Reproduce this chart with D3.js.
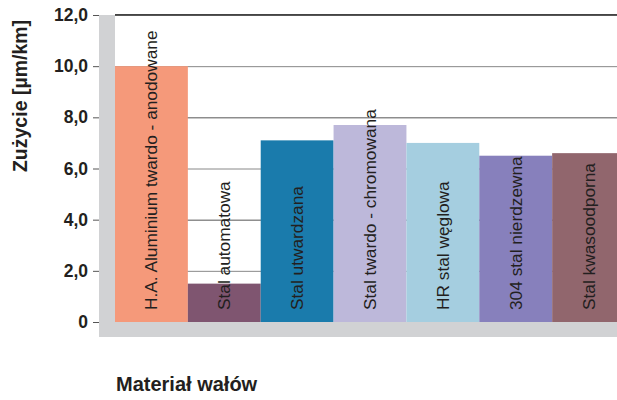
<!DOCTYPE html>
<html>
<head>
<meta charset="utf-8">
<script src="https://cdn.jsdelivr.net/npm/d3@7"></script>
<style>
  body { margin: 0; background: #fff; }
  text { font-family: "Liberation Sans", Arial, sans-serif; fill: #231f20; }
</style>
</head>
<body>
<svg></svg>
<script>
const categories = ["H.A. Aluminium twardo - anodowane", "Stal automatowa", "Stal utwardzana",
  "Stal twardo - chromowana", "HR stal węglowa", "304 stal nierdzewna", "Stal kwasoodporna"];
const values = [10.0, 1.5, 7.1, 7.7, 7.0, 6.5, 6.6];
const colors = ["#f5997a", "#7f5570", "#1a7bac", "#bdb8da", "#a5cee0", "#8780bc", "#91666d"];
const yTicks = [0, 2, 4, 6, 8, 10, 12];
const yTitle = "Zużycie [µm/km]";
const xTitle = "Materiał wałów";

let svg = d3.select("svg").attr("width", 617).attr("height", 400);

const x0 = 115, x1 = 625, yTop = 15, yBot = 322;
const x = d3.scaleBand().domain(categories).range([x0, x1]).padding(0);
const y = d3.scaleLinear().domain([0, 12]).range([yBot, yTop]);

// grey wall + floor
svg.append("rect").attr("x", 99).attr("y", yTop).attr("width", x0 - 99).attr("height", 337 - yTop).style("fill", "#d1d2d4");
svg.append("rect").attr("x", 99).attr("y", yBot).attr("width", 617 - 99).attr("height", 337 - yBot).style("fill", "#d1d2d4");

// gridlines
svg.append("g").selectAll("line").data(yTicks.filter(d => d > 0)).join("line")
  .attr("x1", x0).attr("x2", 617)
  .attr("y1", d => y(d) + 0.5).attr("y2", d => y(d) + 0.5)
  .style("stroke", (d, i) => i % 2 ? "#555" : "#888").style("stroke-width", 1);
svg.append("line").attr("x1", x0).attr("x2", 617).attr("y1", y(12) - 0.5).attr("y2", y(12) - 0.5)
  .style("stroke", "#444").style("stroke-width", 1);

// y axis
const yAxis = d3.axisLeft(y).tickValues(yTicks).tickSize(6).tickPadding(5)
  .tickFormat(d => d === 0 ? "0" : d3.format(".1f")(d).replace(".", ","));
const ga = svg.append("g").attr("transform", `translate(99,0)`).call(yAxis);
ga.select(".domain").remove();
ga.selectAll(".tick line").style("stroke", "#555");
ga.selectAll(".tick text").style("font-size", "17.5px").style("font-weight", "bold").style("fill", "#231f20")
  .style("font-family", "'Liberation Sans', Arial, sans-serif");

// bars
svg.append("g").selectAll("rect").data(categories).join("rect")
  .attr("x", d => x(d)).attr("width", x.bandwidth())
  .attr("y", (d, i) => y(values[i])).attr("height", (d, i) => yBot - y(values[i]))
  .style("fill", (d, i) => colors[i]);

// bar labels
svg.append("g").selectAll("text").data(categories).join("text")
  .attr("transform", d => `translate(${x(d) + x.bandwidth() / 2 + 6},${yBot - 12}) rotate(-90)`)
  .style("font-size", "17.3px").style("fill", "#231f20")
  .text(d => d);

// titles
svg.append("text").attr("transform", `translate(27,96) rotate(-90)`).attr("text-anchor", "middle")
  .style("font-size", "19.5px").style("font-weight", "bold").text(yTitle);
svg.append("text").attr("x", 116).attr("y", 391)
  .style("font-size", "20px").style("font-weight", "bold").text(xTitle);
</script>
</body>
</html>
